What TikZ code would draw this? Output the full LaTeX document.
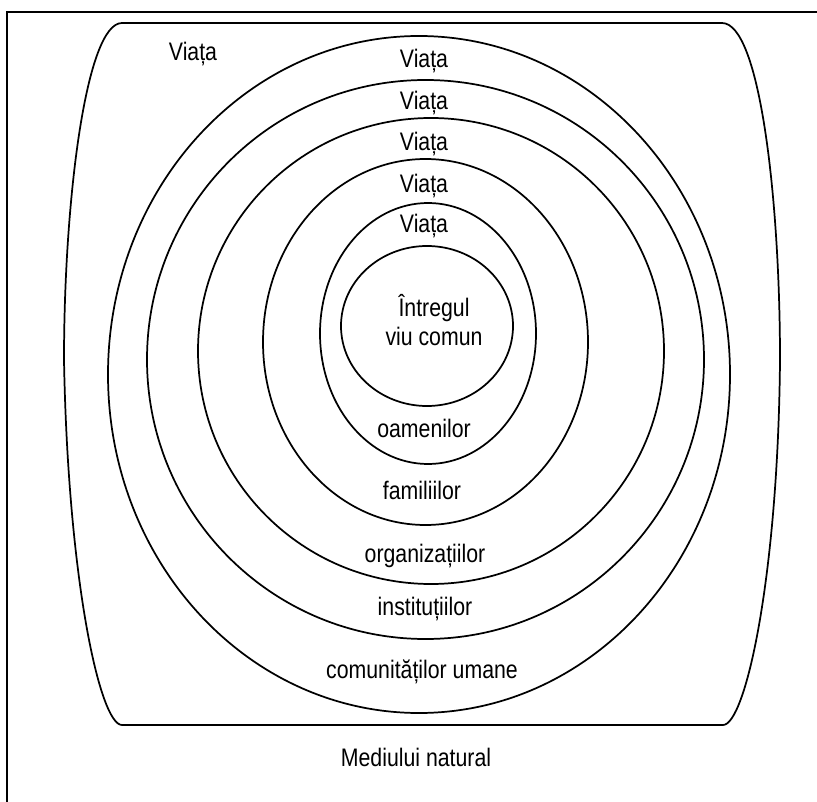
\documentclass[tikz,border=0pt]{standalone}
\usepackage{fontspec}
\setmainfont{Liberation Sans}[FakeStretch=0.84]
\usepackage{tikz}
\tikzstyle{ring} = [draw=black, line width=1.3pt]
\tikzstyle{frame} = [draw=black, line width=1.1pt]
\tikzstyle{lbl} = [inner sep=0pt, anchor=base, font=\fontsize{19}{22}\selectfont]

\begin{document}
\begin{tikzpicture}[x=0.75pt, y=-0.75pt]
                \useasboundingbox (0,0) rectangle (817,802);
                \draw[frame] (7,802) -- (7,12) -- (817,12);
                \draw[ring] (122,23) -- (722,23)
                    .. controls (760,23) and (780,200) .. (780,360)
                    .. controls (778,580) and (745,725) .. (723,725) -- (122,725)
                    .. controls (100,725) and (68,580) .. (64,360)
                    .. controls (64,200) and (86,23) .. (122,23);
                \draw[ring] (63.5,343) -- (63.5,365);
                \draw[ring] (419,374.5) ellipse [x radius=311, y radius=338.5];
                \draw[ring] (425.5,359.5) ellipse [x radius=278.5, y radius=279.5];
                \draw[ring] (431,351) ellipse [x radius=233, y radius=233];
                \draw[ring] (425.5,342) ellipse [x radius=162.5, y radius=183];
                \draw[ring] (428,333.5) ellipse [x radius=108, y radius=130.5];
                \draw[ring] (427,326) ellipse [x radius=86, y radius=80];
                \node[lbl] (viata0) at (193,61) {Viața};
                \node[lbl] (viata1) at (424,68) {Viața};
                \node[lbl] (viata2) at (424,110) {Viața};
                \node[lbl] (viata3) at (424,151) {Viața};
                \node[lbl] (viata4) at (424,193) {Viața};
                \node[lbl] (viata5) at (424,233) {Viața};
                \node[lbl] (intregul) at (434,316) {Întregul};
                \node[lbl] (viu) at (434,345) {viu comun};
                \node[lbl] (oameni) at (424,437) {oamenilor};
                \node[lbl] (familii) at (422,499) {familiilor};
                \node[lbl] (organizatii) at (425,562) {organizațiilor};
                \node[lbl] (institutii) at (425,615) {instituțiilor};
                \node[lbl] (comunitati) at (422,678) {comunităților umane};
                \node[lbl] (mediu) at (416,766) {Mediului natural};
            \end{tikzpicture}
\end{document}
